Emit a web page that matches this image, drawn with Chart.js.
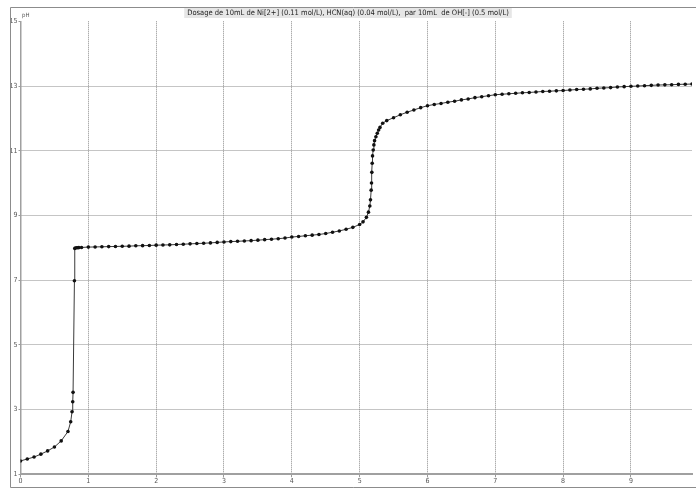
<!DOCTYPE html>
<html lang="fr">
<head>
<meta charset="utf-8">
<title>Dosage pH</title>
<script src="https://cdn.jsdelivr.net/npm/chart.js@4.4.1/dist/chart.umd.min.js"></script>
<style>
    html, body { margin: 0; padding: 0; background: #fff; }
    canvas { display: block; }
</style>
</head>
<body>
<canvas id="dosageChart" width="696" height="488"></canvas>
<script>
// Volume de OH- versé (mL)
const volumes = [
    0, 0.1, 0.2, 0.3, 0.4, 0.5, 0.6, 0.7, 0.74, 0.76, 0.77, 0.775, 0.795, 0.8, 0.82, 0.84, 0.86,
    0.9, 1.0, 1.1, 1.2, 1.3, 1.4, 1.5, 1.6, 1.7, 1.8, 1.9,
    2.0, 2.1, 2.2, 2.3, 2.4, 2.5, 2.6, 2.7, 2.8, 2.9,
    3.0, 3.1, 3.2, 3.3, 3.4, 3.5, 3.6, 3.7, 3.8, 3.9,
    4.0, 4.1, 4.2, 4.3, 4.4, 4.5, 4.6, 4.7, 4.8, 4.9,
    5.0, 5.05, 5.1, 5.13, 5.15, 5.16, 5.17, 5.175, 5.18, 5.185, 5.19, 5.2, 5.21, 5.22, 5.24, 5.26, 5.28, 5.3, 5.34,
    5.4, 5.5, 5.6, 5.7, 5.8, 5.9,
    6.0, 6.1, 6.2, 6.3, 6.4, 6.5, 6.6, 6.7, 6.8, 6.9,
    7.0, 7.1, 7.2, 7.3, 7.4, 7.5, 7.6, 7.7, 7.8, 7.9,
    8.0, 8.1, 8.2, 8.3, 8.4, 8.5, 8.6, 8.7, 8.8, 8.9,
    9.0, 9.1, 9.2, 9.3, 9.4, 9.5, 9.6, 9.7, 9.8, 9.9
];

// pH mesuré
const phValues = [
    1.41, 1.47, 1.53, 1.62, 1.72, 1.84, 2.03, 2.32, 2.62, 2.93, 3.24, 3.53, 6.98, 7.98, 8.0, 8.0, 8.005,
    8.01, 8.02, 8.025, 8.03, 8.035, 8.04, 8.045, 8.05, 8.06, 8.065, 8.07,
    8.08, 8.085, 8.09, 8.10, 8.11, 8.12, 8.13, 8.14, 8.15, 8.165,
    8.18, 8.19, 8.20, 8.21, 8.22, 8.235, 8.25, 8.265, 8.28, 8.30,
    8.33, 8.35, 8.37, 8.39, 8.41, 8.44, 8.48, 8.52, 8.57, 8.63,
    8.72, 8.80, 8.94, 9.10, 9.29, 9.48, 9.78, 10.0, 10.33, 10.61, 10.84, 11.02, 11.18, 11.31, 11.43, 11.54, 11.64, 11.72, 11.85,
    11.93, 12.02, 12.11, 12.19, 12.26, 12.33,
    12.39, 12.43, 12.46, 12.50, 12.53, 12.57, 12.60, 12.64, 12.67, 12.70,
    12.73, 12.745, 12.76, 12.775, 12.79, 12.80, 12.815, 12.83, 12.84, 12.85,
    12.86, 12.875, 12.89, 12.90, 12.91, 12.93, 12.94, 12.95, 12.97, 12.98,
    12.99, 13.0, 13.01, 13.02, 13.03, 13.035, 13.04, 13.05, 13.055, 13.06
];

// Graduations des axes
const xTicks = [0, 1, 2, 3, 4, 5, 6, 7, 8, 9];
const yTicks = [1, 3, 5, 7, 9, 11, 13, 15];

const chartTitle = 'Dosage de 10mL de Ni[2+] (0.11 mol/L), HCN(aq) (0.04 mol/L),  par 10mL  de OH[-] (0.5 mol/L)';
const narrowFont = "'Liberation Sans Narrow', 'DejaVu Sans Condensed', 'Liberation Sans', sans-serif";

document.addEventListener('DOMContentLoaded', () => {
    const ctx = document.getElementById('dosageChart').getContext('2d');
    const points = volumes.map((v, i) => ({ x: v, y: phValues[i] }));

    // Cadre, fond du titre et étiquette "pH"
    const framePlugin = {
        id: 'frame',
        beforeDraw(chart) {
            const c = chart.ctx;
            c.save();
            c.fillStyle = '#fff';
            c.fillRect(0, 0, chart.width, chart.height);
            c.font = '7.5px ' + narrowFont;
            const w = c.measureText(chartTitle).width;
            c.fillStyle = '#e6e6e6';
            c.fillRect(chart.width / 2 - w / 2 - 3, 8, w + 6, 10);
            c.restore();
        },
        afterDraw(chart) {
            const c = chart.ctx;
            c.save();
            c.strokeStyle = '#8c8c8c';
            c.lineWidth = 1;
            c.beginPath();
            c.moveTo(10.5, 7.5);
            c.lineTo(chart.width, 7.5);
            c.moveTo(10.5, 7.5);
            c.lineTo(10.5, 487.5);
            c.lineTo(chart.width, 487.5);
            c.stroke();
            c.fillStyle = '#555';
            c.font = '6px ' + narrowFont;
            c.textAlign = 'left';
            c.textBaseline = 'middle';
            c.fillText('pH', 22, 15);
            c.restore();
        }
    };

    new Chart(ctx, {
        type: 'scatter',
        data: {
            datasets: [{
                data: points,
                showLine: true,
                borderColor: '#3a3a3a',
                borderWidth: 1,
                pointRadius: 1.8,
                pointBackgroundColor: '#111',
                pointBorderWidth: 0,
                tension: 0
            }]
        },
        options: {
            responsive: false,
            animation: false,
            devicePixelRatio: 1,
            layout: { padding: 0 },
            plugins: {
                legend: { display: false },
                tooltip: { enabled: false },
                title: {
                    display: true,
                    text: chartTitle,
                    color: '#222',
                    align: 'center',
                    font: { family: narrowFont, size: 7.5, weight: 'normal', lineHeight: 1.2 },
                    padding: { top: 8.3, bottom: 4 }
                }
            },
            scales: {
                x: {
                    type: 'linear',
                    min: 0,
                    max: 9.9,
                    afterBuildTicks: s => { s.ticks = xTicks.map(v => ({ value: v })); },
                    afterFit: s => { s.height = 13.8; },
                    grid: {
                        color: c => (c.tick && c.tick.value === 0 ? 'rgba(0,0,0,0)' : '#8a8a8a'),
                        lineWidth: 1,
                        borderDash: [1, 1],
                        drawTicks: true,
                        tickLength: 3,
                        tickColor: '#999',
                        tickBorderDash: []
                    },
                    border: { display: true, color: '#a0a0a0', width: 2, dash: [1, 1] },
                    ticks: {
                        color: '#555',
                        padding: 0,
                        maxRotation: 0,
                        font: { family: narrowFont, size: 7 }
                    }
                },
                y: {
                    type: 'linear',
                    min: 1,
                    max: 15,
                    afterBuildTicks: s => { s.ticks = yTicks.map(v => ({ value: v })); },
                    afterFit: s => { s.width = 20.5; },
                    grid: {
                        color: c => (c.tick && (c.tick.value === 1 || c.tick.value === 15) ? 'rgba(0,0,0,0)' : '#8a8a8a'),
                        lineWidth: 1,
                        borderDash: [1, 1],
                        drawTicks: true,
                        tickLength: 2,
                        tickColor: '#999',
                        tickBorderDash: []
                    },
                    border: { display: true, color: '#a0a0a0', width: 1.5, dash: [1, 1] },
                    ticks: {
                        color: '#555',
                        padding: 1,
                        font: { family: narrowFont, size: 7 }
                    }
                }
            }
        },
        plugins: [framePlugin]
    });
});
</script>
</body>
</html>
